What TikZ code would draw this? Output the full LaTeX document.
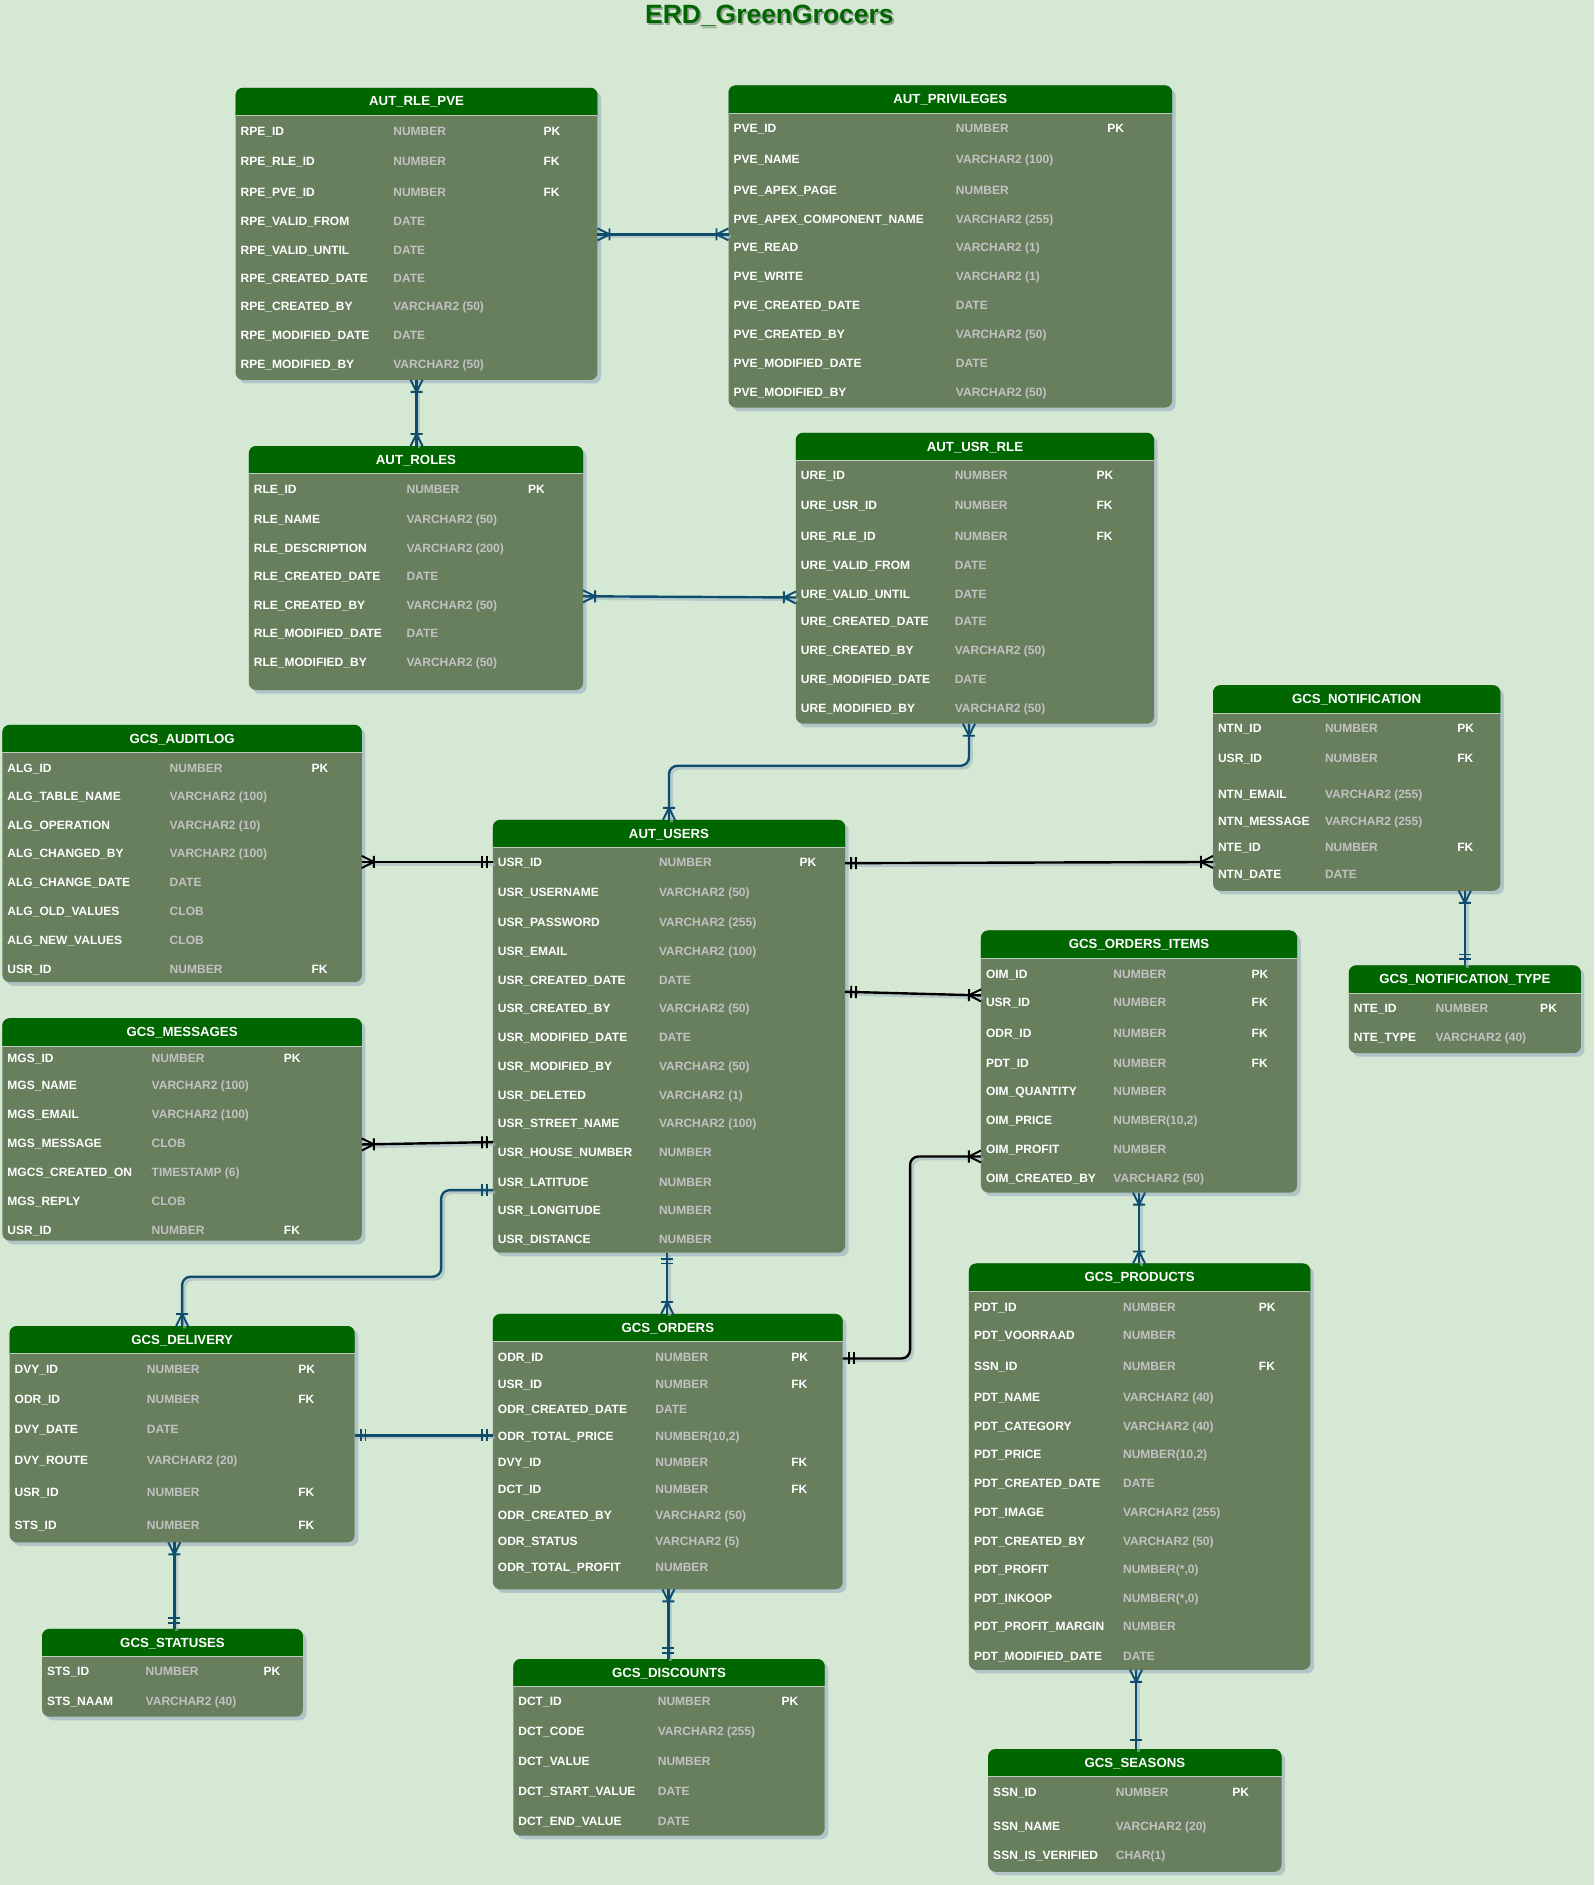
\documentclass[tikz,border=0pt]{standalone}
\usepackage{fontspec}
\setmainfont{Liberation Sans}
\usetikzlibrary{decorations.markings}

\definecolor{bggreen}{HTML}{D5E8D4}
\definecolor{headgreen}{HTML}{006600}
\definecolor{bodygreen}{HTML}{677F5D}
\definecolor{typegray}{HTML}{C2C2C2}
\definecolor{linkblue}{HTML}{0E4D6E}
\definecolor{shadowgray}{HTML}{A2B6C4}

\tikzset{
  tblshadow/.style={fill=shadowgray, opacity=0.7},
  tblbody/.style={fill=bodygreen, rounded corners=6pt, inner sep=0pt, outer sep=0pt, anchor=north west},
  tblhead/.style={fill=headgreen},
  headline/.style={draw=bodygreen!40!white, line width=0.6pt},
  headtext/.style={text=white, font=\fontsize{11}{13}\selectfont\bfseries, inner sep=0pt},
  fieldname/.style={text=white, font=\fontsize{10}{12}\selectfont\bfseries, anchor=west, inner sep=0pt, text height=7.2pt, text depth=0pt},
  fieldtype/.style={fieldname, text=typegray},
  fieldkey/.style={fieldname},
  rel/.style={color=linkblue, line width=2pt, rounded corners=7pt,
    preaction={draw=shadowgray, opacity=0.6, line width=2.4pt, transform canvas={shift={(2,2)}}}},
  relblack/.style={rel, color=black},
  crow start/.style={postaction={decorate, decoration={markings, mark=at position 0 with
    {\draw[line width=1.6pt, sharp corners, line join=round] (0,-5)--(10,0)--(0,5) (10,-5)--(10,5);}}}},
  crow end/.style={postaction={decorate, decoration={markings, mark=at position 1 with
    {\draw[line width=1.6pt, sharp corners, line join=round] (0,-5)--(-10,0)--(0,5) (-10,-5)--(-10,5);}}}},
  bars start/.style={postaction={decorate, decoration={markings, mark=at position 0 with
    {\draw[line width=1.6pt, sharp corners] (5,-5)--(5,5) (9,-5)--(9,5);}}}},
  bars end/.style={postaction={decorate, decoration={markings, mark=at position 1 with
    {\draw[line width=1.6pt, sharp corners] (-5,-5)--(-5,5) (-9,-5)--(-9,5);}}}},
  bar end/.style={postaction={decorate, decoration={markings, mark=at position 1 with
    {\draw[line width=1.6pt, sharp corners] (-8,-5)--(-8,5);}}}},
}

% table: name, left, top, right, bottom, title, type x, key x, rows
\newcommand{\erdtable}[9]{%
  \fill[tblshadow, rounded corners=6pt] (#2+3,#3+3) rectangle (#4+3,#5+3); %shadow
  \node[tblbody, minimum width=#4pt-#2pt, minimum height=#5pt-#3pt] (#1) at (#2,#3) {}; %body
  \begin{scope}
    \clip (#2,#3) rectangle (#4,#3+23);
    \fill[tblhead, rounded corners=6pt] (#1.north west) rectangle (#1.south east); %header
  \end{scope}
  \draw[headline] (#2,#3+23) -- (#4,#3+23);
  \node[headtext] (#1-title) at ({(#2+#4)/2},#3+12) {#6};
  \foreach \fy/\fname/\ftype/\fkey [count=\i] in {#9} {
    \node[fieldname] (#1-n\i) at (#2+4,\fy) {\fname};
    \node[fieldtype] (#1-t\i) at (#7,\fy) {\ftype};
    \node[fieldkey] (#1-k\i) at (#8,\fy) {\fkey};
  }%
}

\begin{document}
\begin{tikzpicture}[x=1pt, y=-1pt]

%background
\fill[bggreen] (0,0) rectangle (1326,1568);
\useasboundingbox (0,0) rectangle (1326,1568);

%title
\node[font=\fontsize{22}{26}\selectfont\bfseries, text=black, opacity=0.3] (titleshade) at (641.5,15) {ERD\_GreenGrocers};
\node[font=\fontsize{22}{26}\selectfont\bfseries, text=headgreen] (title) at (640,13) {ERD\_GreenGrocers};


%aut tables
\erdtable{rpe}{196}{73}{497}{316}{AUT\_RLE\_PVE}{327}{452}{
109/RPE\_ID/NUMBER/PK, 134/RPE\_RLE\_ID/NUMBER/FK, 160/RPE\_PVE\_ID/NUMBER/FK,
184/RPE\_VALID\_FROM/DATE/{}, 208/RPE\_VALID\_UNTIL/DATE/{}, 231/RPE\_CREATED\_DATE/DATE/{},
255/RPE\_CREATED\_BY/VARCHAR2 (50)/{}, 279/RPE\_MODIFIED\_DATE/DATE/{}, 303/RPE\_MODIFIED\_BY/VARCHAR2 (50)/{}}

\erdtable{pve}{606}{71}{975}{339}{AUT\_PRIVILEGES}{795}{921}{
107/PVE\_ID/NUMBER/PK, 132/PVE\_NAME/VARCHAR2 (100)/{}, 158/PVE\_APEX\_PAGE/NUMBER/{},
182/PVE\_APEX\_COMPONENT\_NAME/VARCHAR2 (255)/{}, 206/PVE\_READ/VARCHAR2 (1)/{}, 230/PVE\_WRITE/VARCHAR2 (1)/{},
254/PVE\_CREATED\_DATE/DATE/{}, 278/PVE\_CREATED\_BY/VARCHAR2 (50)/{}, 302/PVE\_MODIFIED\_DATE/DATE/{},
326/PVE\_MODIFIED\_BY/VARCHAR2 (50)/{}}

\erdtable{rle}{207}{371}{485}{574}{AUT\_ROLES}{338}{439}{
407/RLE\_ID/NUMBER/PK, 432/RLE\_NAME/VARCHAR2 (50)/{}, 456/RLE\_DESCRIPTION/VARCHAR2 (200)/{},
479/RLE\_CREATED\_DATE/DATE/{}, 503/RLE\_CREATED\_BY/VARCHAR2 (50)/{}, 527/RLE\_MODIFIED\_DATE/DATE/{},
551/RLE\_MODIFIED\_BY/VARCHAR2 (50)/{}}

\erdtable{ure}{662}{360}{960}{602}{AUT\_USR\_RLE}{794}{912}{
395/URE\_ID/NUMBER/PK, 420/URE\_USR\_ID/NUMBER/FK, 446/URE\_RLE\_ID/NUMBER/FK,
470/URE\_VALID\_FROM/DATE/{}, 494/URE\_VALID\_UNTIL/DATE/{}, 517/URE\_CREATED\_DATE/DATE/{},
541/URE\_CREATED\_BY/VARCHAR2 (50)/{}, 565/URE\_MODIFIED\_DATE/DATE/{}, 589/URE\_MODIFIED\_BY/VARCHAR2 (50)/{}}

\erdtable{usr}{410}{682}{703}{1042}{AUT\_USERS}{548}{665}{
717/USR\_ID/NUMBER/PK, 742/USR\_USERNAME/VARCHAR2 (50)/{}, 767/USR\_PASSWORD/VARCHAR2 (255)/{},
791/USR\_EMAIL/VARCHAR2 (100)/{}, 815/USR\_CREATED\_DATE/DATE/{}, 839/USR\_CREATED\_BY/VARCHAR2 (50)/{},
863/USR\_MODIFIED\_DATE/DATE/{}, 887/USR\_MODIFIED\_BY/VARCHAR2 (50)/{}, 911/USR\_DELETED/VARCHAR2 (1)/{},
934/USR\_STREET\_NAME/VARCHAR2 (100)/{}, 958/USR\_HOUSE\_NUMBER/NUMBER/{}, 983/USR\_LATITUDE/NUMBER/{},
1007/USR\_LONGITUDE/NUMBER/{}, 1031/USR\_DISTANCE/NUMBER/{}}


%gcs tables
\erdtable{ntn}{1009}{570}{1248}{741}{GCS\_NOTIFICATION}{1102}{1212}{
606/NTN\_ID/NUMBER/PK, 631/USR\_ID/NUMBER/FK, 661/NTN\_EMAIL/VARCHAR2 (255)/{},
683/NTN\_MESSAGE/VARCHAR2 (255)/{}, 705/NTE\_ID/NUMBER/FK, 727/NTN\_DATE/DATE/{}}

\erdtable{nte}{1122}{803}{1315}{876}{GCS\_NOTIFICATION\_TYPE}{1194}{1281}{
839/NTE\_ID/NUMBER/PK, 863/NTE\_TYPE/VARCHAR2 (40)/{}}

\erdtable{alg}{2}{603}{301}{817}{GCS\_AUDITLOG}{141}{259}{
639/ALG\_ID/NUMBER/PK, 662/ALG\_TABLE\_NAME/VARCHAR2 (100)/{}, 686/ALG\_OPERATION/VARCHAR2 (10)/{},
710/ALG\_CHANGED\_BY/VARCHAR2 (100)/{}, 734/ALG\_CHANGE\_DATE/DATE/{}, 758/ALG\_OLD\_VALUES/CLOB/{},
782/ALG\_NEW\_VALUES/CLOB/{}, 806/USR\_ID/NUMBER/FK}

\erdtable{mgs}{2}{847}{301}{1032}{GCS\_MESSAGES}{126}{236}{
880/MGS\_ID/NUMBER/PK, 903/MGS\_NAME/VARCHAR2 (100)/{}, 927/MGS\_EMAIL/VARCHAR2 (100)/{},
951/MGS\_MESSAGE/CLOB/{}, 975/MGCS\_CREATED\_ON/TIMESTAMP (6)/{}, 999/MGS\_REPLY/CLOB/{},
1023/USR\_ID/NUMBER/FK}

\erdtable{oim}{816}{774}{1079}{992}{GCS\_ORDERS\_ITEMS}{926}{1041}{
810/OIM\_ID/NUMBER/PK, 834/USR\_ID/NUMBER/FK, 859/ODR\_ID/NUMBER/FK, 884/PDT\_ID/NUMBER/FK,
908/OIM\_QUANTITY/NUMBER/{}, 932/OIM\_PRICE/{NUMBER(10,2)}/{}, 956/OIM\_PROFIT/NUMBER/{},
980/OIM\_CREATED\_BY/VARCHAR2 (50)/{}}

\erdtable{dvy}{8}{1103}{295}{1283}{GCS\_DELIVERY}{122}{248}{
1139/DVY\_ID/NUMBER/PK, 1164/ODR\_ID/NUMBER/FK, 1189/DVY\_DATE/DATE/{}, 1215/DVY\_ROUTE/VARCHAR2 (20)/{},
1241/USR\_ID/NUMBER/FK, 1269/STS\_ID/NUMBER/FK}

\erdtable{odr}{410}{1093}{701}{1322}{GCS\_ORDERS}{545}{658}{
1129/ODR\_ID/NUMBER/PK, 1151/USR\_ID/NUMBER/FK, 1172/ODR\_CREATED\_DATE/DATE/{},
1195/ODR\_TOTAL\_PRICE/{NUMBER(10,2)}/{}, 1216/DVY\_ID/NUMBER/FK, 1239/DCT\_ID/NUMBER/FK,
1260/ODR\_CREATED\_BY/VARCHAR2 (50)/{}, 1282/ODR\_STATUS/VARCHAR2 (5)/{}, 1304/ODR\_TOTAL\_PROFIT/NUMBER/{}}

\erdtable{pdt}{806}{1051}{1090}{1389}{GCS\_PRODUCTS}{934}{1047}{
1087/PDT\_ID/NUMBER/PK, 1111/PDT\_VOORRAAD/NUMBER/{}, 1136/SSN\_ID/NUMBER/FK,
1162/PDT\_NAME/VARCHAR2 (40)/{}, 1186/PDT\_CATEGORY/VARCHAR2 (40)/{}, 1210/PDT\_PRICE/{NUMBER(10,2)}/{},
1234/PDT\_CREATED\_DATE/DATE/{}, 1258/PDT\_IMAGE/VARCHAR2 (255)/{}, 1282/PDT\_CREATED\_BY/VARCHAR2 (50)/{},
1305/PDT\_PROFIT/{NUMBER(*,0)}/{}, 1329/PDT\_INKOOP/{NUMBER(*,0)}/{}, 1353/PDT\_PROFIT\_MARGIN/NUMBER/{},
1378/PDT\_MODIFIED\_DATE/DATE/{}}

\erdtable{sts}{35}{1355}{252}{1428}{GCS\_STATUSES}{121}{219}{
1390/STS\_ID/NUMBER/PK, 1415/STS\_NAAM/VARCHAR2 (40)/{}}

\erdtable{dct}{427}{1380}{686}{1527}{GCS\_DISCOUNTS}{547}{650}{
1415/DCT\_ID/NUMBER/PK, 1440/DCT\_CODE/VARCHAR2 (255)/{}, 1465/DCT\_VALUE/NUMBER/{},
1490/DCT\_START\_VALUE/DATE/{}, 1515/DCT\_END\_VALUE/DATE/{}}

\erdtable{ssn}{822}{1455}{1066}{1557}{GCS\_SEASONS}{928}{1025}{
1491/SSN\_ID/NUMBER/PK, 1519/SSN\_NAME/VARCHAR2 (20)/{}, 1543/SSN\_IS\_VERIFIED/CHAR(1)/{}}


%relations between the tables
\draw [rel, crow start, crow end] (rpe.east |- 0,195) -- (pve.west |- 0,195); %rle_pve - privileges
\draw [rel, crow start, crow end] (rpe.south) -- (rpe.south |- rle.north); %rle_pve - roles
\draw [rel, crow start, crow end] (rle.east |- 0,496) -- (ure.west |- 0,497); %roles - usr_rle
\draw [rel, crow start, crow end] (ure.south -| 806,0) -- (806,637) -| (usr.north); %usr_rle - users

\draw [relblack, bars start, crow end] (usr.west |- 0,717) -- (alg.east |- 0,717); %users - auditlog
\draw [relblack, bars start, crow end] (usr.east |- 0,718) -- (ntn.west |- 0,717); %users - notification
\draw [relblack, bars start, crow end] (usr.east |- 0,825) -- (oim.west |- 0,828); %users - orders_items
\draw [relblack, bars start, crow end] (usr.west |- 0,950) -- (mgs.east |- 0,952); %users - messages
\draw [rel, bars start, crow end] (usr.west |- 0,990) -- (367,990) |- (dvy.north |- 0,1062) -- (dvy.north); %users - delivery
\draw [rel, bars start, crow end] (usr.south -| 555,0) -- (odr.north -| 555,0); %users - orders

\draw [rel, crow start, bars end] (ntn.south -| nte.north) -- (nte.north); %notification - notification_type
\draw [relblack, bars start, crow end] (odr.east |- 0,1130) -- (757,1130) |- (oim.west |- 0,962); %orders - orders_items
\draw [rel, crow start, crow end] (oim.south) -- (oim.south |- pdt.north); %orders_items - products
\draw [rel, bars start, bars end] (dvy.east |- 0,1194) -- (odr.west |- 0,1194); %delivery - orders
\draw [rel, crow start, bars end] (dvy.south -| 145,0) -- (sts.north -| 145,0); %delivery - statuses
\draw [rel, crow start, bars end] (odr.south -| 556,0) -- (dct.north -| 556,0); %orders - discounts
\draw [rel, crow start, bar end] (pdt.south -| 945,0) -- (ssn.north -| 945,0); %products - seasons

\end{tikzpicture}
\end{document}
